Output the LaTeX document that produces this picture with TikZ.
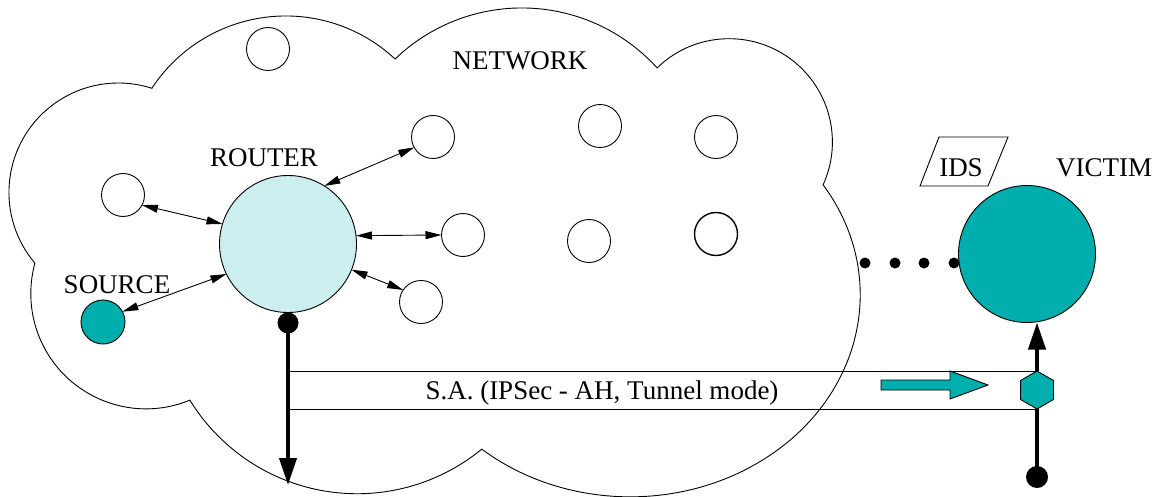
\documentclass[tikz,border=0pt]{standalone}
\usepackage{fontspec}
\setmainfont{Liberation Serif}
\usetikzlibrary{arrows.meta,shapes.geometric}
\definecolor{hostteal}{RGB}{0,174,174}
\definecolor{routerfill}{RGB}{204,238,238}

\begin{document}
\begin{tikzpicture}[x=1pt,y=-1pt,
  every node/.style={outer sep=0pt},
  lbl/.style={font=\fontsize{27}{32}\selectfont, inner sep=0pt, anchor=base},
  host/.style={circle, draw, line width=0.9pt, minimum size=43pt, inner sep=0pt},
  link/.style={line width=0.9pt, {Triangle[length=16pt,width=8pt]}-{Triangle[length=16pt,width=8pt]}},
  heavy/.style={line width=4pt},
  heavyarrow/.style={line width=4pt, -{Triangle[length=27pt,width=17pt]}},
  blob/.style={circle, fill=black, inner sep=0pt},
  cloudline/.style={line width=0.9pt, line join=miter}]

% canvas
\fill[white] (0,0) rectangle (1161,497);
\useasboundingbox (0,0) rectangle (1161,497);

% network cloud: seven lobes, clockwise from the upper-left notch
\draw[cloudline] (152,88)
  arc[start angle=-146.6, end angle=-47.0, radius=160.25]
  arc[start angle=-133.9, end angle=-42.2, radius=182.7]
  arc[start angle=-134.2, end angle=24.5, radius=103.3]
  arc[start angle=-33.0, end angle=130.2, x radius=230, y radius=202]
  arc[start angle=50.6, end angle=148.45, radius=196.3]
  arc[start angle=67.6, end angle=195.35, radius=115.2]
  arc[start angle=139.7, end angle=287.9, radius=109.4]
  -- cycle;

% labels
\node[lbl] (netlbl) at (520,70) {NETWORK};
\node[lbl] (routerlbl) at (264,167) {ROUTER};
\node[lbl] (sourcelbl) at (117,293) {SOURCE};
\node[lbl] (victimlbl) at (1104,177) {VICTIM};

% hosts inside the network
\node[host] (c1) at (268,49) {};
\node[host] (c2) at (433,137) {};
\node[host] (c3) at (600,126) {};
\node[host] (c4) at (716,137) {};
\node[host] (c5) at (123,195) {};
\node[host] (c6) at (463,235) {};
\node[host] (c7) at (589,241) {};
\node[host, line width=1.4pt] (c8) at (716,234) {};
\node[host] (c9) at (421,302) {};

% router, source and victim
\node[circle, draw, line width=0.9pt, fill=routerfill, minimum size=137pt, inner sep=0pt] (router) at (288,244) {};
\node[circle, draw, line width=0.9pt, fill=hostteal, minimum size=44pt, inner sep=0pt] (source) at (103,322) {};
\node[circle, draw, line width=0.9pt, fill=hostteal, minimum size=137pt, inner sep=0pt] (victim) at (1027,254) {};

% router links
\draw[link] (router.58) -- (c2.209);
\draw[link] (router.163) -- (c5.332);
\draw[link] (router.7) -- (c6.180);
\draw[link] (router.338) -- (c9.146);
\draw[link] (router.206) -- (source.28);

% path towards the victim
\node[blob, minimum size=11pt] (d1) at (865,263) {};
\node[blob, minimum size=11pt] (d2) at (895,263) {};
\node[blob, minimum size=11pt] (d3) at (924,263) {};
\node[blob, minimum size=11pt] (d4) at (954,263) {};

% intrusion detection system
\draw[line width=0.9pt] (939,137) -- (1008,137) -- (988,186) -- (920,186) -- cycle;
\node[lbl] (ids) at (961,177) {IDS};

% security association tunnel
\node[blob, minimum size=21pt] (rdot) at (288,323) {};
\coordinate (rtip) at (288,485);
\draw[heavyarrow] (rdot.center) -- (rtip);

\node[regular polygon, regular polygon sides=6, shape border rotate=30, minimum size=38pt,
      inner sep=0pt, draw, line width=0.9pt, fill=hostteal] (hex) at (1037,390) {};
\node[blob, minimum size=22pt] (bdot) at (1037,477) {};
\draw[heavy] (hex.south) -- (bdot.center);
\draw[heavyarrow] (hex.north) -- (hex.north |- victim.south);

\draw[line width=0.9pt] (rdot.center |- hex.north) -- (hex.north);
\draw[line width=0.9pt] (rdot.center |- hex.south) -- (hex.south);
\node[lbl] (salbl) at (602,399) {S.A. (IPSec - AH, Tunnel mode)};

% traffic direction
\draw[line width=0.9pt, fill=hostteal]
  (881,380) -- (950,380) -- (950,371) -- (988,385) -- (950,399) -- (950,390) -- (881,390) -- cycle;

\end{tikzpicture}
\end{document}
